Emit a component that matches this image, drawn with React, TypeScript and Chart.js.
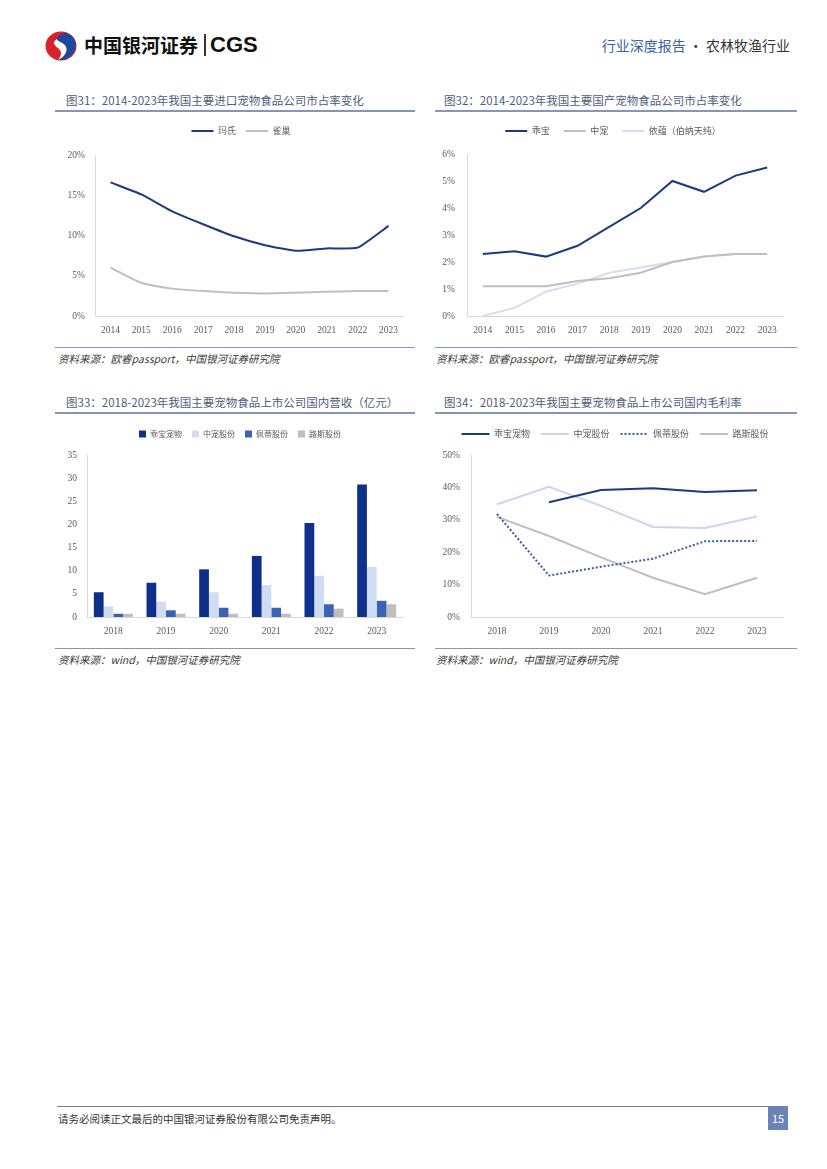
import React, { useEffect, useRef } from "react";
import { Chart, registerables } from "chart.js";
Chart.register(...registerables);

// ---------- DATA ----------
const years14 = ["2014", "2015", "2016", "2017", "2018", "2019", "2020", "2021", "2022", "2023"];
const marsShare = [16.6, 15.1, 13.0, 11.4, 9.9, 8.8, 8.1, 8.4, 8.5, 11.2];
const nestleShare = [6.0, 4.1, 3.4, 3.1, 2.9, 2.8, 2.9, 3.0, 3.1, 3.1];

const gambolShare = [2.3, 2.4, 2.2, 2.6, 3.3, 4.0, 5.0, 4.6, 5.2, 5.5];
const wanpyShare = [1.1, 1.1, 1.1, 1.3, 1.4, 1.6, 2.0, 2.2, 2.3, 2.3];
const yiyunShare = [0.0, 0.3, 0.9, 1.2, 1.6, 1.8, 2.0, 2.2, 2.3, 2.3];

const years18 = ["2018", "2019", "2020", "2021", "2022", "2023"];
const gambolRev = [5.35, 7.4, 10.3, 13.2, 20.3, 28.6];
const wanpyRev = [2.3, 3.3, 5.35, 6.9, 8.9, 10.8];
const petiRev = [0.7, 1.45, 2.0, 2.0, 2.75, 3.5];
const lusiRev = [0.7, 0.7, 0.7, 0.7, 1.8, 2.75];

const gambolGM = [null, 35.4, 39.2, 39.7, 38.6, 39.1];
const wanpyGM = [34.8, 40.2, 34.3, 27.8, 27.5, 31.0];
const petiGM = [31.8, 12.8, 15.5, 18.0, 23.4, 23.5];
const lusiGM = [30.9, 25.0, 18.4, 12.1, 7.0, 12.1];

const namesImport = ["玛氏", "雀巢"];
const namesDomestic = ["乖宝", "中宠", "依蕴（伯纳天纯）"];
const namesListed = ["乖宝宠物", "中宠股份", "佩蒂股份", "路斯股份"];

// ---------- STYLE ----------
const NAVY = "#1d3a80";
const GRAY = "#bfbfbf";
const PALE = "#d4def0";
const LIGHTBLUE = "#c9d6ec";
const MIDBLUE = "#3a5ba8";
const BAR1 = "#0e2f8a";
const BAR2 = "#d0dcf2";
const BAR3 = "#3b62b3";
const BAR4 = "#bfbfbf";
const AXIS = "#d9d9d9";
const TICK = "#595959";
const CJK = "'Noto Sans CJK SC', 'Noto Sans', sans-serif";
const SERIF = "'Liberation Serif', 'DejaVu Serif', serif";
const RULE = "#8596b6";

type Spec = {
  left: number; top: number; width: number; height: number;
  legendY: number; legendCX: number;
  plotL: number; plotR: number; plotT: number; plotB: number;
  legendSize: number; legendPad: number;
};

function frame(s: Spec) {
  const padTop = s.legendY - s.top - s.legendPad - s.legendSize / 2;
  const legendH = s.legendSize + s.legendPad + 10;
  const spacer = s.plotT - s.top - padTop - legendH;
  const xH = s.top + s.height - s.plotB;
  const padRight = s.left + s.width - s.plotR;
  const yW = s.plotL - s.left;
  const dx = s.legendCX - (s.left + (s.width - padRight) / 2);
  return { padTop, spacer, xH, padRight, yW, dx };
}

const legendShift = {
  id: "legendShift",
  afterLayout(chart: any, _args: any, opts: any) {
    const lg = chart.legend;
    if (lg && opts && opts.dx) {
      lg.left += opts.dx;
      lg.right += opts.dx;
    }
  },
};

function makeOptions(s: Spec, yMax: number, yStep: number, suffix: string, yPad: number, xPad: number, legendLabels: any, tickSize: number) {
  const f = frame(s);
  return {
    responsive: true,
    maintainAspectRatio: false,
    animation: false,
    layout: { padding: { top: f.padTop, left: 0, right: f.padRight, bottom: 0 } },
    plugins: {
      legend: { position: "top", align: "center", labels: legendLabels },
      legendShift: { dx: f.dx },
      title: {
        display: true, text: "", weight: 500, position: "top",
        padding: { top: 0, bottom: Math.max(f.spacer - 1, 0) },
        font: { size: 1, lineHeight: 1 },
      },
      tooltip: { enabled: false },
    },
    scales: {
      x: {
        offset: true,
        grid: { display: false, drawTicks: false },
        border: { display: true, color: AXIS, width: 1 },
        ticks: { font: { family: SERIF, size: tickSize }, color: TICK, padding: xPad, maxRotation: 0, autoSkip: false },
        afterFit: (sc: any) => { sc.height = f.xH; },
      },
      y: {
        min: 0, max: yMax,
        grid: { display: false, drawTicks: false },
        border: { display: true, color: AXIS, width: 1 },
        ticks: {
          stepSize: yStep, font: { family: SERIF, size: tickSize }, color: TICK, padding: yPad,
          callback: (v: any) => v + suffix,
        },
        afterFit: (sc: any) => { sc.width = f.yW; },
      },
    },
  };
}

function lineLegend(size: number, pad: number, w: number) {
  return {
    usePointStyle: true, pointStyle: "line", pointStyleWidth: w,
    font: { family: CJK, size }, color: TICK, padding: pad,
    generateLabels: (chart: any) => {
      const items = (Chart.defaults as any).plugins.legend.labels.generateLabels(chart);
      return items.map((it: any) => {
        const ds = chart.data.datasets[it.datasetIndex];
        return { ...it, lineDash: ds.borderDash || [], lineWidth: ds.borderWidth, strokeStyle: ds.borderColor, fillStyle: ds.borderColor, pointStyle: "line" };
      });
    },
  };
}

const spec1: Spec = { left: 55, top: 112, width: 360, height: 232, legendY: 131, legendCX: 241, plotL: 95, plotR: 404, plotT: 155, plotB: 316, legendSize: 9, legendPad: 10 };
const spec2: Spec = { left: 435, top: 112, width: 362, height: 232, legendY: 131, legendCX: 613, plotL: 467, plotR: 783, plotT: 154, plotB: 316, legendSize: 9, legendPad: 14 };
const spec3: Spec = { left: 55, top: 414, width: 360, height: 232, legendY: 434, legendCX: 240, plotL: 87, plotR: 403, plotT: 455, plotB: 617, legendSize: 8, legendPad: 10 };
const spec4: Spec = { left: 435, top: 414, width: 362, height: 232, legendY: 434, legendCX: 615, plotL: 471, plotR: 783, plotT: 455, plotB: 617, legendSize: 9, legendPad: 11 };

function lineDs(label: string, data: any[], color: string, extra: any = {}) {
  return { label, data, borderColor: color, backgroundColor: color, borderWidth: 2, pointRadius: 0, fill: false, tension: 0, ...extra };
}

const config1 = () => ({
  type: "line",
  data: {
    labels: years14,
    datasets: [
      lineDs(namesImport[0], marsShare, NAVY, { tension: 0.15 }),
      lineDs(namesImport[1], nestleShare, GRAY, { tension: 0.15 }),
    ],
  },
  options: makeOptions(spec1, 20, 5, "%", 10, 9, lineLegend(9, 10, 22), 9.5),
  plugins: [legendShift],
});

const config2 = () => ({
  type: "line",
  data: {
    labels: years14,
    datasets: [
      lineDs(namesDomestic[0], gambolShare, NAVY),
      lineDs(namesDomestic[1], wanpyShare, GRAY),
      lineDs(namesDomestic[2], yiyunShare, PALE),
    ],
  },
  options: makeOptions(spec2, 6, 1, "%", 12, 9, lineLegend(9, 14, 22), 9.5),
  plugins: [legendShift],
});

const config3 = () => ({
  type: "bar",
  data: {
    labels: years18,
    datasets: [
      { label: namesListed[0], data: gambolRev, backgroundColor: BAR1, borderWidth: 0 },
      { label: namesListed[1], data: wanpyRev, backgroundColor: BAR2, borderWidth: 0 },
      { label: namesListed[2], data: petiRev, backgroundColor: BAR3, borderWidth: 0 },
      { label: namesListed[3], data: lusiRev, backgroundColor: BAR4, borderWidth: 0 },
    ].map((d) => ({ ...d, barPercentage: 1.0, categoryPercentage: 0.74 })),
  },
  options: makeOptions(spec3, 35, 5, "", 10, 9, {
    boxWidth: 7, boxHeight: 7, font: { family: CJK, size: 8 }, color: TICK, padding: 10,
  }, 9.5),
  plugins: [legendShift],
});

const config4 = () => ({
  type: "line",
  data: {
    labels: years18,
    datasets: [
      lineDs(namesListed[0], gambolGM, NAVY),
      lineDs(namesListed[1], wanpyGM, LIGHTBLUE),
      lineDs(namesListed[2], petiGM, MIDBLUE, { borderDash: [2, 2] }),
      lineDs(namesListed[3], lusiGM, GRAY),
    ],
  },
  options: makeOptions(spec4, 50, 10, "%", 11, 9, lineLegend(9, 11, 28), 9.5),
  plugins: [legendShift],
});

function ChartBox({ spec, make }: { spec: Spec; make: () => any }) {
  const ref = useRef<HTMLCanvasElement | null>(null);
  useEffect(() => {
    if (!ref.current) return;
    const chart = new Chart(ref.current, make());
    return () => chart.destroy();
  }, []);
  return (
    <div style={{ position: "absolute", left: spec.left, top: spec.top, width: spec.width, height: spec.height }}>
      <canvas ref={ref} />
    </div>
  );
}

function Abs({ style, children }: { style: React.CSSProperties; children?: React.ReactNode }) {
  return <div style={{ position: "absolute", whiteSpace: "nowrap", ...style }}>{children}</div>;
}

function Panel({ x, w, titleTop, ruleTop, srcRuleTop, title, source, titleX, srcX }: any) {
  return (
    <>
      <Abs style={{ left: titleX, top: titleTop, fontFamily: CJK, fontSize: 11.5, lineHeight: "14px", color: "#4d5d7a" }}>{title}</Abs>
      <Abs style={{ left: x, top: ruleTop, width: w, height: 1.5, background: RULE }} />
      <Abs style={{ left: x, top: srcRuleTop, width: w, height: 1.2, background: RULE }} />
      <Abs style={{ left: srcX, top: srcRuleTop + 5, fontFamily: CJK, fontSize: 10.5, lineHeight: "14px", fontStyle: "italic", color: "#3a3a3a" }}>{source}</Abs>
    </>
  );
}

export default function App() {
  return (
    <div style={{ position: "absolute", left: 0, top: 0, width: 827, height: 1169, background: "#fff", overflow: "hidden" }}>
      {/* header */}
      <div style={{ position: "absolute", left: 44, top: 30 }}>
        <svg width="34" height="32" viewBox="0 0 34 32">
          <ellipse cx="17" cy="16" rx="15.5" ry="14.5" fill="#d6222b" />
          <path d="M22 3 C30 5 33 12 31 19 C29 26 22 31 14 30 C20 27 24 22 22 17 C20 12 13 12 13 9 C13 6 17 4 22 3 Z" fill="#1a4a9e" />
          <path d="M13 9 C13 12 20 12 22 17 C24 22 20 27 14 30 C18 25 18 21 14 18 C10 15 8 12 13 9 Z" fill="#ffffff" />
        </svg>
      </div>
      <Abs style={{ left: 84, top: 33, fontFamily: CJK, fontWeight: 700, fontSize: 19, lineHeight: "24px", color: "#111" }}>中国银河证券</Abs>
      <Abs style={{ left: 204, top: 34, width: 1.5, height: 22, background: "#333" }} />
      <Abs style={{ left: 210, top: 32, fontFamily: "'Liberation Sans', Arial, sans-serif", fontWeight: 700, fontSize: 22, lineHeight: "26px", color: "#111" }}>CGS</Abs>
      <Abs style={{ right: 37, top: 36, fontFamily: CJK, fontSize: 14, lineHeight: "18px", color: "#333" }}>
        <span style={{ color: "#3a62a7" }}>行业深度报告</span> · 农林牧渔行业
      </Abs>

      <Panel x={55} w={360} titleX={66} titleTop={93} ruleTop={110} srcRuleTop={347}
        title="图31：2014-2023年我国主要进口宠物食品公司市占率变化" srcX={58}
        source="资料来源：欧睿passport，中国银河证券研究院" />
      <Panel x={435} w={362} titleX={444} titleTop={93} ruleTop={110} srcRuleTop={347}
        title="图32：2014-2023年我国主要国产宠物食品公司市占率变化" srcX={436}
        source="资料来源：欧睿passport，中国银河证券研究院" />
      <Panel x={55} w={360} titleX={66} titleTop={395} ruleTop={412} srcRuleTop={648}
        title="图33：2018-2023年我国主要宠物食品上市公司国内营收（亿元）" srcX={58}
        source="资料来源：wind，中国银河证券研究院" />
      <Panel x={435} w={362} titleX={444} titleTop={395} ruleTop={412} srcRuleTop={648}
        title="图34：2018-2023年我国主要宠物食品上市公司国内毛利率" srcX={436}
        source="资料来源：wind，中国银河证券研究院" />

      <ChartBox spec={spec1} make={config1} />
      <ChartBox spec={spec2} make={config2} />
      <ChartBox spec={spec3} make={config3} />
      <ChartBox spec={spec4} make={config4} />

      {/* footer */}
      <Abs style={{ left: 57, top: 1106, width: 711, height: 1, background: "#7f7f7f" }} />
      <Abs style={{ left: 58, top: 1112, fontFamily: CJK, fontSize: 10.5, lineHeight: "14px", color: "#333" }}>请务必阅读正文最后的中国银河证券股份有限公司免责声明。</Abs>
      <Abs style={{ left: 768, top: 1106, width: 20, height: 24, background: "#6b84b8", color: "#fff", fontFamily: CJK, fontSize: 11, lineHeight: "24px", textAlign: "center" }}>15</Abs>
    </div>
  );
}
